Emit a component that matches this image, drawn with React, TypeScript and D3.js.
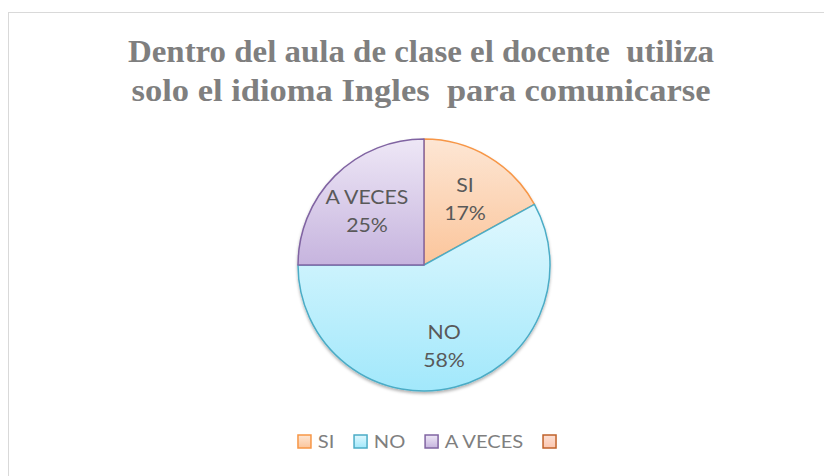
import React, { useEffect, useRef } from "react";
import * as d3 from "d3";

const categories = ["SI", "NO", "A VECES", ""];
const values = [17, 58, 25, 0];
const labels = ["17%", "58%", "25%", ""];
const titleLines = [
  "Dentro del aula de clase el docente  utiliza",
  "solo el idioma Ingles  para comunicarse",
];
const fillTop = ["#fde6d4", "#e0f8fe", "#eee7f6", "#fde0d4"];
const fillBottom = ["#fbc59b", "#a2e8fb", "#c6b4de", "#fbc6b0"];
const strokes = ["#f79646", "#4bacc6", "#8064a2", "#c0622a"];

const W = 824;
const H = 476;

export default function App() {
  const ref = useRef<SVGSVGElement>(null);

  useEffect(() => {
    const svg = d3.select(ref.current);
    svg.selectAll("*").remove();

    const defs = svg.append("defs");
    categories.forEach((_, i) => {
      const g = defs
        .append("linearGradient")
        .attr("id", `grad${i}`)
        .attr("x1", 0)
        .attr("y1", 0)
        .attr("x2", 0)
        .attr("y2", 1);
      g.append("stop").attr("offset", "0%").attr("stop-color", fillTop[i]);
      g.append("stop").attr("offset", "100%").attr("stop-color", fillBottom[i]);
    });
    const f = defs
      .append("filter")
      .attr("id", "shadow")
      .attr("x", "-20%")
      .attr("y", "-20%")
      .attr("width", "140%")
      .attr("height", "140%");
    f.append("feDropShadow")
      .attr("dx", 0)
      .attr("dy", 2)
      .attr("stdDeviation", 1.5)
      .attr("flood-color", "#000")
      .attr("flood-opacity", 0.3);

    svg
      .append("rect")
      .attr("x", 8.5)
      .attr("y", 12.5)
      .attr("width", W)
      .attr("height", H)
      .attr("fill", "#fff")
      .attr("stroke", "#d9d9d9")
      .attr("stroke-width", 1);

    const cx = 424;
    const cy = 265;
    const r = 126;
    const textStretch = 1.12;

    // Title
    const titleWidths = [586, 579];
    const title = svg
      .append("text")
      .attr("font-family", "'Liberation Serif', 'Times New Roman', serif")
      .attr("font-weight", "bold")
      .attr("font-size", 31)
      .attr("fill", "#7f7f7f")
      .attr("text-anchor", "middle")
      .style("white-space", "pre");
    titleLines.forEach((t, i) => {
      title
        .append("tspan")
        .attr("x", 421)
        .attr("y", 62 + i * 39)
        .attr("textLength", titleWidths[i])
        .attr("lengthAdjust", "spacingAndGlyphs")
        .text(t);
    });

    const pie = d3
      .pie<number>()
      .sort(null)
      .value((d) => d);
    const arcs = pie(values);
    const arc = d3.arc<d3.PieArcDatum<number>>().innerRadius(0).outerRadius(r);
    const labelArc = d3
      .arc<d3.PieArcDatum<number>>()
      .innerRadius(r * 1.28)
      .outerRadius(0);

    const g = svg.append("g").attr("transform", `translate(${cx},${cy})`);
    const sh = g.append("g").attr("filter", "url(#shadow)");
    sh.selectAll("path")
      .data(arcs.filter((a) => a.value > 0))
      .join("path")
      .attr("d", (d) => arc(d) as string)
      .attr("fill", (d) => `url(#grad${d.index})`)
      .attr("stroke", (d) => strokes[d.index])
      .attr("stroke-width", 1.5)
      .attr("stroke-linejoin", "round");

    arcs
      .filter((a) => a.value > 0)
      .forEach((a) => {
        const [lx, ly] = labelArc.centroid(a);
        const t = g
          .append("g")
          .attr("transform", `translate(${lx},${ly + 2}) scale(${textStretch},1)`)
          .append("text")
          .attr("font-family", "Lato, 'Noto Sans', sans-serif")
          .attr("font-size", 19)
          .attr("fill", "#595959")
          .attr("text-anchor", "middle");
        t.append("tspan").attr("x", 0).attr("y", -6).text(categories[a.index]);
        t.append("tspan").attr("x", 0).attr("y", 22).text(labels[a.index]);
      });

    // Legend
    const leg = svg.append("g");
    const box = 13;
    const gap = 6;
    const spacing = 19;
    const items: { g: any; w: number }[] = [];
    categories.forEach((c, i) => {
      const ig = leg.append("g");
      ig.append("rect")
        .attr("x", 0.75)
        .attr("y", -box / 2)
        .attr("width", box)
        .attr("height", box)
        .attr("fill", `url(#grad${i})`)
        .attr("stroke", strokes[i])
        .attr("stroke-width", 1.5);
      const tx = ig
        .append("g")
        .attr("transform", `translate(${box + 1.5 + gap},0) scale(${textStretch},1)`)
        .append("text")
        .attr("x", 0)
        .attr("y", 0)
        .attr("dy", "0.36em")
        .attr("font-family", "Lato, 'Noto Sans', sans-serif")
        .attr("font-size", 18)
        .attr("fill", "#7f7f7f")
        .text(c);
      const tw = c
        ? (tx.node() as SVGTextElement).getComputedTextLength() * textStretch
        : 0;
      items.push({ g: ig, w: box + 1.5 + (c ? gap + tw : 0) });
    });
    const total =
      items.reduce((s, it) => s + it.w, 0) + spacing * (items.length - 1);
    let x = cx + 3 - total / 2;
    items.forEach((it) => {
      it.g.attr("transform", `translate(${x},441.5)`);
      x += it.w + spacing;
    });
  }, []);

  return (
    <svg
      ref={ref}
      width={W}
      height={H}
      style={{ position: "absolute", left: 0, top: 0, display: "block" }}
    />
  );
}
